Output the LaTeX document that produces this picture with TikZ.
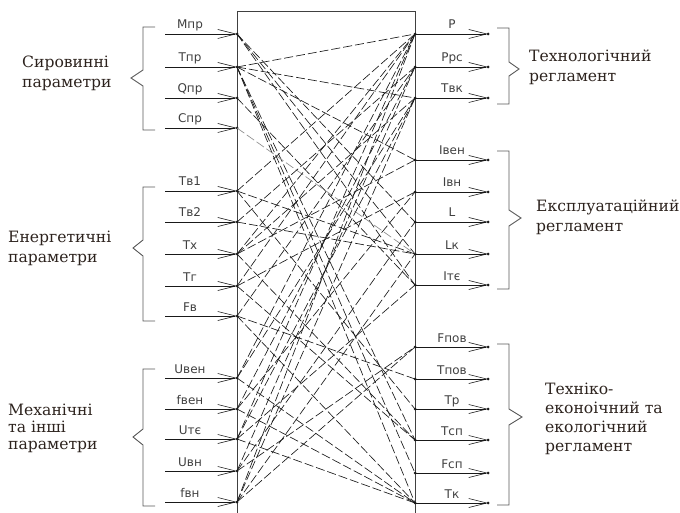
\documentclass[tikz,border=0pt]{standalone}
\usepackage{fontspec}
\setmainfont{DejaVu Serif}
\newfontfamily\grpfont{DejaVu Serif}
\newfontfamily\cadfont{DejaVu Sans}
\usetikzlibrary{arrows.meta}
\definecolor{txtcol}{RGB}{45,35,30}
\definecolor{linecol}{RGB}{25,25,25}
\begin{document}
\begin{tikzpicture}[x=1pt,y=-1pt,
  inline/.style={line width=0.7pt, draw=linecol},
  barb/.style={-{Straight Barb[length=18pt,width=9pt,line width=0.6pt]}},
  link/.style={line width=0.65pt, dash pattern=on 9pt off 3pt, draw=linecol},
  boxline/.style={line width=0.9pt, draw=black!75},
  brace/.style={line width=0.9pt, draw=black!65},
  lab/.style={font=\cadfont\fontsize{12}{12}\selectfont, text=black!75, inner sep=0pt, anchor=base},
  grp/.style={font=\grpfont\fontsize{15.6}{20}\selectfont, text=txtcol, align=left, anchor=west, inner sep=0pt},
  tip/.style={fill=linecol}]
\useasboundingbox (0,0) rectangle (680,513);
% box
\draw[boxline] (237,513) -- (237,11) -- (415,11) -- (415,513);
% inputs
\foreach \n/\y/\t in {1/34/Mпр, 2/67/Tпр, 3/98/Qпр, 4/128/Cпр, 5/191/Tв1, 6/222/Tв2, 7/254/Tх, 8/286/Tг, 9/316/Fв, 10/378/Uвен, 11/409/fвен, 12/439/Uтє, 13/471/Uвн, 14/502/fвн}{
  \coordinate (s\n) at (165,\y);
  \coordinate (l\n) at (237,\y);
  \draw[inline,barb] (s\n) -- (l\n);
  \fill[tip] (l\n) circle (1.5);
  \node[lab] (tl\n) at (190,\y-5) {\t};
}
% outputs
\foreach \n/\y/\t in {1/34/P, 2/67/Pрс, 3/98/Tвк, 4/160/Iвен, 5/192/Iвн, 6/222/L, 7/254/Lк, 8/285/Iтє, 9/347/Fпов, 10/379/Tпов, 11/409/Tр, 12/440/Tсп, 13/473/Fсп, 14/503/Tк}{
  \coordinate (r\n) at (415,\y);
  \coordinate (e\n) at (488,\y);
  \draw[inline,barb] (r\n) -- (e\n);
  \fill[tip] (r\n) circle (1.5);
  \fill[tip] (e\n) circle (1.5);
  \node[lab] (tr\n) at (452,\y-5) {\t};
}
% connections
\draw[link] (l1) -- (r6);
\draw[link] (l1) -- (r7);
\draw[link] (l1) -- (r8);
\draw[link] (l2) -- (r1);
\draw[link] (l2) -- (r3);
\draw[link] (l2) -- (r4);
\draw[link] (l2) -- (r12);
\draw[link] (l2) -- (r13);
\draw[link] (l2) -- (r14);
\draw[link] (l3) -- (r8);
\draw[link, draw=black!45] (l4) -- (r7);
\draw[link] (l5) -- (r1);
\draw[link] (l5) -- (r7);
\draw[link] (l5) -- (r11);
\draw[link] (l6) -- (r2);
\draw[link] (l6) -- (r7);
\draw[link] (l7) -- (r1);
\draw[link] (l7) -- (r4);
\draw[link] (l7) -- (r3);
\draw[link] (l7) -- (r12);
\draw[link] (l8) -- (r1);
\draw[link] (l8) -- (r5);
\draw[link] (l8) -- (r12);
\draw[link] (l9) -- (r2);
\draw[link] (l9) -- (r14);
\draw[link] (l9) -- (r10);
\draw[link] (l10) -- (r1);
\draw[link] (l10) -- (r3);
\draw[link] (l10) -- (r14);
\draw[link] (l11) -- (r2);
\draw[link] (l11) -- (r5);
\draw[link] (l11) -- (r14);
\draw[link] (l12) -- (r1);
\draw[link] (l12) -- (r3);
\draw[link] (l12) -- (r8);
\draw[link] (l12) -- (r14);
\draw[link] (l13) -- (r2);
\draw[link] (l13) -- (r6);
\draw[link] (l13) -- (r9);
\draw[link] (l14) -- (r1);
\draw[link] (l14) -- (r3);
\draw[link] (l14) -- (r9);
\draw[link] (l14) -- (r7);
% left braces
\draw[brace] (155,27) -- (143,27) -- (143,70) -- (131,78) -- (143,86) -- (143,130) -- (155,130);
\draw[brace] (155,187) -- (143,187) -- (143,240) -- (133,248) -- (143,256) -- (143,321) -- (155,321);
\draw[brace] (155,369) -- (143,369) -- (143,429) -- (133,437) -- (143,445) -- (143,506) -- (155,506);
% right braces
\draw[brace] (497,28) -- (509,28) -- (509,62) -- (519,69) -- (509,76) -- (509,104) -- (497,104);
\draw[brace] (497,151) -- (509,151) -- (509,210) -- (521,218) -- (509,226) -- (509,289) -- (497,289);
\draw[brace] (497,344) -- (509,344) -- (509,409) -- (522,417) -- (509,425) -- (509,505) -- (497,505);
% group texts
\node[grp] (g1) at (22,73) {Сировинні\\параметри};
\node[grp] (g2) at (8,248) {Енергетичні\\параметри};
\node[grp, font=\grpfont\fontsize{15.6}{17}\selectfont] (g3) at (8,428) {Механічні\\та інші\\параметри};
\node[grp] (g4) at (529,67) {Технологічний\\регламент};
\node[grp] (g5) at (536,217) {Експлуатаційний\\регламент};
\node[grp, font=\grpfont\fontsize{15.6}{19}\selectfont] (g6) at (545,419) {Техніко-\\еконоічний та\\екологічний\\регламент};
\end{tikzpicture}
\end{document}
